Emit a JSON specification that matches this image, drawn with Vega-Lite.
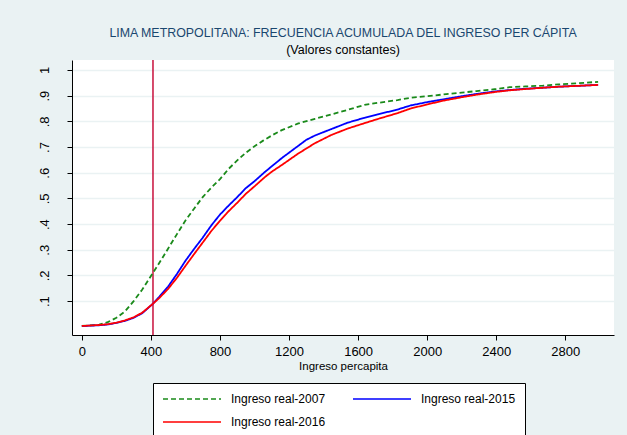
{
  "$schema": "https://vega.github.io/schema/vega-lite/v6.json",
  "width": 542,
  "height": 275,
  "autosize": {"type": "none"},
  "padding": {"left": 72, "top": 60, "right": 13, "bottom": 100},
  "background": "#eaf2f3",
  "title": {
    "text": "LIMA METROPOLITANA: FRECUENCIA ACUMULADA DEL INGRESO PER CÁPITA",
    "subtitle": "(Valores constantes)",
    "anchor": "middle",
    "font": "Liberation Sans",
    "fontSize": 12.4,
    "fontWeight": "normal",
    "color": "#1a476f",
    "subtitleFont": "Liberation Sans",
    "subtitleFontSize": 12.5,
    "subtitleColor": "#000000",
    "offset": 3,
    "subtitlePadding": 4
  },
  "config": {
    "view": {"fill": "white", "stroke": null},
    "font": "Liberation Sans",
    "legend": {
      "title": null,
      "orient": "none",
      "legendX": 81,
      "legendY": 323,
      "columns": 2,
      "direction": "horizontal",
      "symbolType": "M-1,0H8.67",
      "symbolSize": 144,
      "symbolStrokeWidth": 1.5,
      "labelFont": "Liberation Sans",
      "labelFontSize": 12,
      "labelColor": "#000000",
      "labelOffset": 55,
      "columnPadding": 24,
      "rowPadding": 10,
      "padding": 9,
      "strokeColor": "#000000",
      "fillColor": "#ffffff"
    }
  },
  "datasets": {
    "curvas": [
      {"serie": "Ingreso real-2007", "ingreso": 0, "frec": 0.003},
      {"serie": "Ingreso real-2007", "ingreso": 100, "frec": 0.008},
      {"serie": "Ingreso real-2007", "ingreso": 150, "frec": 0.018},
      {"serie": "Ingreso real-2007", "ingreso": 200, "frec": 0.035},
      {"serie": "Ingreso real-2007", "ingreso": 250, "frec": 0.06},
      {"serie": "Ingreso real-2007", "ingreso": 300, "frec": 0.1},
      {"serie": "Ingreso real-2007", "ingreso": 350, "frec": 0.145},
      {"serie": "Ingreso real-2007", "ingreso": 412, "frec": 0.21},
      {"serie": "Ingreso real-2007", "ingreso": 450, "frec": 0.25},
      {"serie": "Ingreso real-2007", "ingreso": 500, "frec": 0.305},
      {"serie": "Ingreso real-2007", "ingreso": 550, "frec": 0.36},
      {"serie": "Ingreso real-2007", "ingreso": 600, "frec": 0.414},
      {"serie": "Ingreso real-2007", "ingreso": 650, "frec": 0.46},
      {"serie": "Ingreso real-2007", "ingreso": 700, "frec": 0.505},
      {"serie": "Ingreso real-2007", "ingreso": 750, "frec": 0.542},
      {"serie": "Ingreso real-2007", "ingreso": 800, "frec": 0.575},
      {"serie": "Ingreso real-2007", "ingreso": 850, "frec": 0.615},
      {"serie": "Ingreso real-2007", "ingreso": 900, "frec": 0.648},
      {"serie": "Ingreso real-2007", "ingreso": 950, "frec": 0.678},
      {"serie": "Ingreso real-2007", "ingreso": 1000, "frec": 0.703},
      {"serie": "Ingreso real-2007", "ingreso": 1050, "frec": 0.725},
      {"serie": "Ingreso real-2007", "ingreso": 1100, "frec": 0.745},
      {"serie": "Ingreso real-2007", "ingreso": 1158, "frec": 0.766},
      {"serie": "Ingreso real-2007", "ingreso": 1254, "frec": 0.792},
      {"serie": "Ingreso real-2007", "ingreso": 1350, "frec": 0.81},
      {"serie": "Ingreso real-2007", "ingreso": 1445, "frec": 0.827},
      {"serie": "Ingreso real-2007", "ingreso": 1540, "frec": 0.845},
      {"serie": "Ingreso real-2007", "ingreso": 1637, "frec": 0.864},
      {"serie": "Ingreso real-2007", "ingreso": 1713, "frec": 0.872},
      {"serie": "Ingreso real-2007", "ingreso": 1828, "frec": 0.883},
      {"serie": "Ingreso real-2007", "ingreso": 1904, "frec": 0.892},
      {"serie": "Ingreso real-2007", "ingreso": 2000, "frec": 0.898},
      {"serie": "Ingreso real-2007", "ingreso": 2096, "frec": 0.905},
      {"serie": "Ingreso real-2007", "ingreso": 2200, "frec": 0.912},
      {"serie": "Ingreso real-2007", "ingreso": 2287, "frec": 0.918},
      {"serie": "Ingreso real-2007", "ingreso": 2400, "frec": 0.926},
      {"serie": "Ingreso real-2007", "ingreso": 2478, "frec": 0.933},
      {"serie": "Ingreso real-2007", "ingreso": 2570, "frec": 0.936},
      {"serie": "Ingreso real-2007", "ingreso": 2670, "frec": 0.939},
      {"serie": "Ingreso real-2007", "ingreso": 2760, "frec": 0.944},
      {"serie": "Ingreso real-2007", "ingreso": 2861, "frec": 0.948},
      {"serie": "Ingreso real-2007", "ingreso": 2990, "frec": 0.954},
      {"serie": "Ingreso real-2015", "ingreso": 0, "frec": 0.003},
      {"serie": "Ingreso real-2015", "ingreso": 100, "frec": 0.006},
      {"serie": "Ingreso real-2015", "ingreso": 150, "frec": 0.009},
      {"serie": "Ingreso real-2015", "ingreso": 200, "frec": 0.015},
      {"serie": "Ingreso real-2015", "ingreso": 250, "frec": 0.023},
      {"serie": "Ingreso real-2015", "ingreso": 300, "frec": 0.035},
      {"serie": "Ingreso real-2015", "ingreso": 350, "frec": 0.053},
      {"serie": "Ingreso real-2015", "ingreso": 412, "frec": 0.09},
      {"serie": "Ingreso real-2015", "ingreso": 450, "frec": 0.118},
      {"serie": "Ingreso real-2015", "ingreso": 500, "frec": 0.157},
      {"serie": "Ingreso real-2015", "ingreso": 550, "frec": 0.205},
      {"serie": "Ingreso real-2015", "ingreso": 600, "frec": 0.257},
      {"serie": "Ingreso real-2015", "ingreso": 650, "frec": 0.303},
      {"serie": "Ingreso real-2015", "ingreso": 700, "frec": 0.347},
      {"serie": "Ingreso real-2015", "ingreso": 750, "frec": 0.395},
      {"serie": "Ingreso real-2015", "ingreso": 800, "frec": 0.437},
      {"serie": "Ingreso real-2015", "ingreso": 850, "frec": 0.472},
      {"serie": "Ingreso real-2015", "ingreso": 900, "frec": 0.505},
      {"serie": "Ingreso real-2015", "ingreso": 950, "frec": 0.54},
      {"serie": "Ingreso real-2015", "ingreso": 1000, "frec": 0.567},
      {"serie": "Ingreso real-2015", "ingreso": 1062, "frec": 0.604},
      {"serie": "Ingreso real-2015", "ingreso": 1100, "frec": 0.625},
      {"serie": "Ingreso real-2015", "ingreso": 1158, "frec": 0.657},
      {"serie": "Ingreso real-2015", "ingreso": 1254, "frec": 0.705},
      {"serie": "Ingreso real-2015", "ingreso": 1300, "frec": 0.728},
      {"serie": "Ingreso real-2015", "ingreso": 1350, "frec": 0.745},
      {"serie": "Ingreso real-2015", "ingreso": 1445, "frec": 0.77},
      {"serie": "Ingreso real-2015", "ingreso": 1540, "frec": 0.795},
      {"serie": "Ingreso real-2015", "ingreso": 1637, "frec": 0.814},
      {"serie": "Ingreso real-2015", "ingreso": 1713, "frec": 0.827},
      {"serie": "Ingreso real-2015", "ingreso": 1828, "frec": 0.846},
      {"serie": "Ingreso real-2015", "ingreso": 1904, "frec": 0.862},
      {"serie": "Ingreso real-2015", "ingreso": 2000, "frec": 0.875},
      {"serie": "Ingreso real-2015", "ingreso": 2096, "frec": 0.886},
      {"serie": "Ingreso real-2015", "ingreso": 2200, "frec": 0.898},
      {"serie": "Ingreso real-2015", "ingreso": 2287, "frec": 0.907},
      {"serie": "Ingreso real-2015", "ingreso": 2400, "frec": 0.917},
      {"serie": "Ingreso real-2015", "ingreso": 2478, "frec": 0.922},
      {"serie": "Ingreso real-2015", "ingreso": 2570, "frec": 0.927},
      {"serie": "Ingreso real-2015", "ingreso": 2670, "frec": 0.931},
      {"serie": "Ingreso real-2015", "ingreso": 2760, "frec": 0.935},
      {"serie": "Ingreso real-2015", "ingreso": 2861, "frec": 0.938},
      {"serie": "Ingreso real-2015", "ingreso": 2990, "frec": 0.942},
      {"serie": "Ingreso real-2016", "ingreso": 0, "frec": 0.003},
      {"serie": "Ingreso real-2016", "ingreso": 100, "frec": 0.007},
      {"serie": "Ingreso real-2016", "ingreso": 150, "frec": 0.01},
      {"serie": "Ingreso real-2016", "ingreso": 200, "frec": 0.016},
      {"serie": "Ingreso real-2016", "ingreso": 250, "frec": 0.025},
      {"serie": "Ingreso real-2016", "ingreso": 300, "frec": 0.037},
      {"serie": "Ingreso real-2016", "ingreso": 350, "frec": 0.055},
      {"serie": "Ingreso real-2016", "ingreso": 412, "frec": 0.09},
      {"serie": "Ingreso real-2016", "ingreso": 450, "frec": 0.113},
      {"serie": "Ingreso real-2016", "ingreso": 500, "frec": 0.148},
      {"serie": "Ingreso real-2016", "ingreso": 550, "frec": 0.19},
      {"serie": "Ingreso real-2016", "ingreso": 600, "frec": 0.237},
      {"serie": "Ingreso real-2016", "ingreso": 650, "frec": 0.283},
      {"serie": "Ingreso real-2016", "ingreso": 700, "frec": 0.328},
      {"serie": "Ingreso real-2016", "ingreso": 750, "frec": 0.373},
      {"serie": "Ingreso real-2016", "ingreso": 800, "frec": 0.413},
      {"serie": "Ingreso real-2016", "ingreso": 850, "frec": 0.45},
      {"serie": "Ingreso real-2016", "ingreso": 900, "frec": 0.483},
      {"serie": "Ingreso real-2016", "ingreso": 950, "frec": 0.518},
      {"serie": "Ingreso real-2016", "ingreso": 1000, "frec": 0.547},
      {"serie": "Ingreso real-2016", "ingreso": 1062, "frec": 0.584},
      {"serie": "Ingreso real-2016", "ingreso": 1100, "frec": 0.604},
      {"serie": "Ingreso real-2016", "ingreso": 1158, "frec": 0.63},
      {"serie": "Ingreso real-2016", "ingreso": 1254, "frec": 0.675},
      {"serie": "Ingreso real-2016", "ingreso": 1350, "frec": 0.715},
      {"serie": "Ingreso real-2016", "ingreso": 1445, "frec": 0.747},
      {"serie": "Ingreso real-2016", "ingreso": 1540, "frec": 0.772},
      {"serie": "Ingreso real-2016", "ingreso": 1637, "frec": 0.793},
      {"serie": "Ingreso real-2016", "ingreso": 1713, "frec": 0.809},
      {"serie": "Ingreso real-2016", "ingreso": 1828, "frec": 0.832},
      {"serie": "Ingreso real-2016", "ingreso": 1904, "frec": 0.85},
      {"serie": "Ingreso real-2016", "ingreso": 2000, "frec": 0.866},
      {"serie": "Ingreso real-2016", "ingreso": 2096, "frec": 0.881},
      {"serie": "Ingreso real-2016", "ingreso": 2200, "frec": 0.894},
      {"serie": "Ingreso real-2016", "ingreso": 2287, "frec": 0.904},
      {"serie": "Ingreso real-2016", "ingreso": 2400, "frec": 0.915},
      {"serie": "Ingreso real-2016", "ingreso": 2478, "frec": 0.921},
      {"serie": "Ingreso real-2016", "ingreso": 2570, "frec": 0.926},
      {"serie": "Ingreso real-2016", "ingreso": 2670, "frec": 0.931},
      {"serie": "Ingreso real-2016", "ingreso": 2760, "frec": 0.935},
      {"serie": "Ingreso real-2016", "ingreso": 2861, "frec": 0.938},
      {"serie": "Ingreso real-2016", "ingreso": 2990, "frec": 0.942}
    ],
    "linea": [{"corte": 412}]
  },
  "layer": [
    {
      "data": {"name": "linea"},
      "mark": {"type": "rule", "color": "#c8103c", "strokeWidth": 1.5},
      "encoding": {
        "x": {"field": "corte", "type": "quantitative"}
      }
    },
    {
      "data": {"name": "curvas"},
      "mark": {"type": "line", "strokeWidth": 1.8, "interpolate": "linear"},
      "encoding": {
        "x": {
          "field": "ingreso",
          "type": "quantitative",
          "scale": {"domain": [-57, 3082], "nice": false, "zero": false},
          "axis": {
            "title": "Ingreso percapita",
            "titleFont": "Liberation Sans",
            "titleFontSize": 11.5,
            "titleFontWeight": "normal",
            "titleColor": "#000000",
            "titlePadding": 2,
            "values": [0, 400, 800, 1200, 1600, 2000, 2400, 2800],
            "format": "d",
            "labelFont": "Liberation Sans",
            "labelFontSize": 13,
            "labelColor": "#000000",
            "labelPadding": 5,
            "tickSize": 5,
            "tickColor": "#000000",
            "domainColor": "#000000",
            "grid": false
          }
        },
        "y": {
          "field": "frec",
          "type": "quantitative",
          "scale": {"domain": [-0.032, 1.039], "nice": false, "zero": false},
          "axis": {
            "title": null,
            "values": [0.1, 0.2, 0.3, 0.4, 0.5, 0.6, 0.7, 0.8, 0.9, 1],
            "labelExpr": "datum.value == 1 ? '1' : replace(format(datum.value, '.1f'), '0.', '.')",
            "labelAngle": -90,
            "labelAlign": "center",
            "labelBaseline": "bottom",
            "labelFont": "Liberation Sans",
            "labelFontSize": 13,
            "labelColor": "#000000",
            "labelPadding": 16,
            "tickSize": 5,
            "tickColor": "#000000",
            "domainColor": "#000000",
            "grid": true,
            "gridColor": "#eaf2f3",
            "gridWidth": 1.5
          }
        },
        "color": {
          "field": "serie",
          "type": "nominal",
          "scale": {
            "domain": ["Ingreso real-2007", "Ingreso real-2015", "Ingreso real-2016"],
            "range": ["#1a8a1a", "#0000ff", "#ff0000"]
          },
          "legend": {}
        },
        "strokeDash": {
          "field": "serie",
          "type": "nominal",
          "scale": {
            "domain": ["Ingreso real-2007", "Ingreso real-2015", "Ingreso real-2016"],
            "range": [[5, 3], [1, 0], [1, 0]]
          },
          "legend": {}
        }
      }
    }
  ]
}
